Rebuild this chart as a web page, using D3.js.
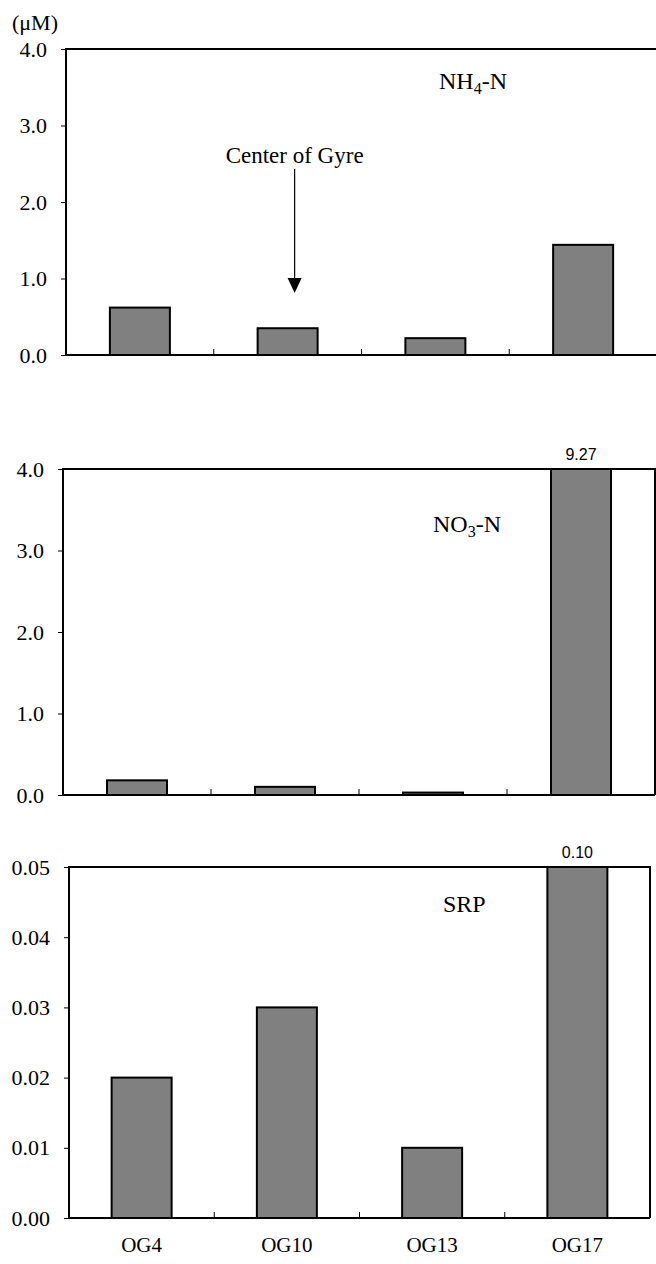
<!DOCTYPE html>
<html>
<head>
<meta charset="utf-8">
<script src="https://cdn.jsdelivr.net/npm/d3@7"></script>
<style>
  body { margin: 0; background: #fff; }
  text { font-family: "Liberation Serif", "Times New Roman", serif; fill: #000; }
</style>
</head>
<body>
<div id="chart"></div>
<script>
// Stations
const stations = ['OG4', 'OG10', 'OG13', 'OG17'];

// Concentrations (uM)
const nh4Values = [0.62, 0.35, 0.22, 1.44];
const no3Values = [0.18, 0.10, 0.03, 9.27];
const srpValues = [0.020, 0.030, 0.010, 0.10];

// Axis ticks
const nTicks = [0, 1, 2, 3, 4];
const srpTicks = [0, 0.01, 0.02, 0.03, 0.04, 0.05];

const width = 656;
const height = 1264;

const svg = d3.select('#chart')
  .append('svg')
  .attr('width', width)
  .attr('height', height);

// unit label
svg.append('text')
  .attr('x', 12)
  .attr('y', 30)
  .attr('font-size', 22)
  .text('(\u03BCM)');

function drawPanel(opts) {
  const { values, ticks, fmt, left, right, top, bottom, yMax } = opts;

  const x = d3.scaleBand()
    .domain(stations)
    .range([left, right])
    .paddingInner(0)
    .paddingOuter(0);

  const y = d3.scaleLinear()
    .domain([0, yMax])
    .range([bottom, top]);

  const g = svg.append('g');
  const barW = 60;

  // frame (left, top, right)
  g.append('path')
    .attr('d', `M${left},${bottom}V${top}H${right}V${bottom}`)
    .attr('fill', 'none')
    .attr('stroke', '#000')
    .attr('stroke-width', 2);

  // bars, clipped at the top of the axis
  g.selectAll('rect.bar')
    .data(values)
    .enter()
    .append('rect')
    .attr('class', 'bar')
    .attr('x', (d, i) => x(stations[i]) + x.bandwidth() / 2 - barW / 2)
    .attr('y', d => y(Math.min(d, yMax)))
    .attr('width', barW)
    .attr('height', d => bottom - y(Math.min(d, yMax)))
    .attr('fill', '#808080')
    .attr('stroke', '#000')
    .attr('stroke-width', 2);

  // value labels for clipped bars
  g.selectAll('text.over')
    .data(values.filter(d => d > yMax))
    .enter()
    .append('text')
    .attr('class', 'over')
    .attr('x', d => x(stations[values.indexOf(d)]) + x.bandwidth() / 2)
    .attr('y', top - 9)
    .attr('text-anchor', 'middle')
    .attr('font-size', 16)
    .style('font-family', '"Liberation Sans", Arial, sans-serif')
    .text(d => d3.format('.2f')(d));

  // y axis
  const yAxis = d3.axisLeft(y)
    .tickValues(ticks)
    .tickSize(5)
    .tickPadding(14)
    .tickFormat(fmt);

  const ya = g.append('g')
    .attr('transform', `translate(${left},0)`)
    .call(yAxis);
  ya.select('.domain').remove();
  ya.selectAll('line').attr('stroke', '#000').attr('stroke-width', 1);
  ya.selectAll('text')
    .attr('font-size', 22)
    .style('font-family', '"Liberation Serif", "Times New Roman", serif');

  // baseline with inner ticks between stations
  g.append('line')
    .attr('x1', left)
    .attr('x2', right)
    .attr('y1', bottom)
    .attr('y2', bottom)
    .attr('stroke', '#000')
    .attr('stroke-width', 2);

  g.selectAll('line.xtick')
    .data(stations.slice(1))
    .enter()
    .append('line')
    .attr('class', 'xtick')
    .attr('x1', d => x(d))
    .attr('x2', d => x(d))
    .attr('y1', bottom)
    .attr('y2', bottom - 6)
    .attr('stroke', '#000')
    .attr('stroke-width', 1);

  // panel title
  const title = g.append('text')
    .attr('x', opts.titleX)
    .attr('y', opts.titleY)
    .attr('font-size', 24);
  title.append('tspan').text(opts.title[0]);
  if (opts.title[1]) {
    title.append('tspan').attr('font-size', 16).attr('dy', 5).text(opts.title[1]);
    title.append('tspan').attr('dy', -5).text(opts.title[2]);
  }

  return { x, y, g };
}

// NH4-N
const p1 = drawPanel({
  values: nh4Values, ticks: nTicks, fmt: d3.format('.1f'),
  left: 66, right: 657, top: 49, bottom: 355, yMax: 4,
  title: ['NH', '4', '-N'], titleX: 439, titleY: 89
});

// Center of Gyre annotation
const ax = p1.x('OG10') + p1.x.bandwidth() / 2 + 7;
p1.g.append('text')
  .attr('x', ax)
  .attr('y', 163)
  .attr('text-anchor', 'middle')
  .attr('font-size', 23)
  .text('Center of Gyre');
p1.g.append('line')
  .attr('x1', ax).attr('x2', ax)
  .attr('y1', 169).attr('y2', 282)
  .attr('stroke', '#000')
  .attr('stroke-width', 1.2);
p1.g.append('path')
  .attr('d', `M${ax - 7},278L${ax + 7},278L${ax},293Z`)
  .attr('fill', '#000');

// NO3-N
drawPanel({
  values: no3Values, ticks: nTicks, fmt: d3.format('.1f'),
  left: 63, right: 655, top: 469, bottom: 795, yMax: 4,
  title: ['NO', '3', '-N'], titleX: 433, titleY: 532
});

// SRP
const p3 = drawPanel({
  values: srpValues, ticks: srpTicks, fmt: d3.format('.2f'),
  left: 69, right: 650, top: 867, bottom: 1218, yMax: 0.05,
  title: ['SRP'], titleX: 443, titleY: 912
});

// station labels
p3.g.selectAll('text.station')
  .data(stations)
  .enter()
  .append('text')
  .attr('class', 'station')
  .attr('x', d => p3.x(d) + p3.x.bandwidth() / 2)
  .attr('y', 1252)
  .attr('text-anchor', 'middle')
  .attr('font-size', 21)
  .text(d => d);
</script>
</body>
</html>
